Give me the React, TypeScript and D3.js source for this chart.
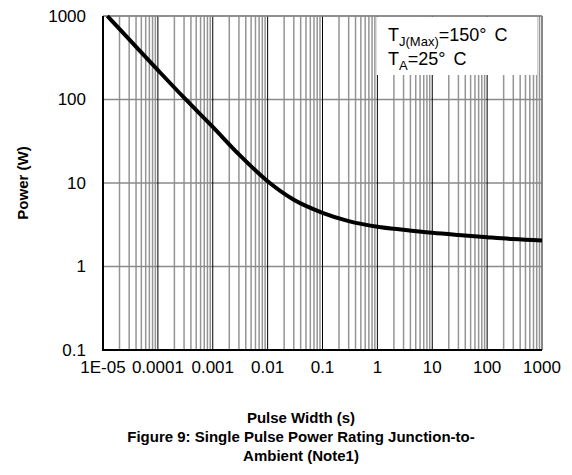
import React from "react";
import { scaleLog, line, curveMonotoneX, range } from "d3";

// Single pulse power rating
const PULSE_WIDTH = [1.2e-5, 3e-5, 1e-4, 3e-4, 1e-3, 3e-3, 1e-2, 3e-2, 1e-1, 3e-1, 1, 3, 10, 30, 100, 300, 1000];
const POWER = [1000, 525, 225, 105, 47, 22, 10.5, 6.3, 4.4, 3.5, 3.0, 2.75, 2.53, 2.38, 2.24, 2.13, 2.05];

const X_TICKS = [1e-5, 1e-4, 1e-3, 1e-2, 1e-1, 1, 10, 100, 1000];
const X_TICK_LABELS = ["1E-05", "0.0001", "0.001", "0.01", "0.1", "1", "10", "100", "1000"];
const Y_TICKS = [0.1, 1, 10, 100, 1000];
const Y_TICK_LABELS = ["0.1", "1", "10", "100", "1000"];

const W = 572;
const H = 475;
const PLOT = { left: 103, right: 542, top: 16, bottom: 350 };
const FONT = "'Liberation Sans', Arial, Helvetica, sans-serif";

export default function App() {
  const x = scaleLog().domain([1e-5, 1000]).range([PLOT.left, PLOT.right]);
  const y = scaleLog().domain([0.1, 1000]).range([PLOT.bottom, PLOT.top]);

  // minor vertical grid: 2..9 within each decade
  const minor: number[] = [];
  range(-5, 3).forEach((e) => {
    for (let k = 2; k <= 9; k++) minor.push(k * Math.pow(10, e));
  });

  const pts = PULSE_WIDTH.map((t, i) => [t, POWER[i]] as [number, number]);
  const path = line<[number, number]>()
    .x((d) => x(d[0]))
    .y((d) => y(d[1]))
    .curve(curveMonotoneX)(pts) ?? "";

  const cx = 301;

  return (
    <svg
      width={W}
      height={H}
      viewBox={`0 0 ${W} ${H}`}
      style={{ position: "absolute", left: 0, top: 0, background: "#fff" }}
      fontFamily={FONT}
    >
      <rect x={0} y={0} width={W} height={H} fill="#fff" />

      {/* minor gridlines */}
      {minor.map((v) => (
        <line key={`m${v}`} x1={x(v)} x2={x(v)} y1={PLOT.top} y2={PLOT.bottom} stroke="#959595" strokeWidth={1.5} />
      ))}
      {/* horizontal decade gridlines */}
      {Y_TICKS.map((v) => (
        <line key={`h${v}`} x1={PLOT.left} x2={PLOT.right} y1={y(v)} y2={y(v)} stroke="#8a8a8a" strokeWidth={1.5} />
      ))}
      {/* vertical decade gridlines */}
      {X_TICKS.map((v) => (
        <line key={`v${v}`} x1={x(v)} x2={x(v)} y1={PLOT.top} y2={PLOT.bottom} stroke="#000" strokeWidth={1} />
      ))}

      {/* frame */}
      <line x1={PLOT.left} x2={PLOT.right} y1={PLOT.top} y2={PLOT.top} stroke="#8a8a8a" strokeWidth={1.5} />
      <line x1={PLOT.right} x2={PLOT.right} y1={PLOT.top} y2={PLOT.bottom} stroke="#8a8a8a" strokeWidth={1.5} />

      {/* legend box */}
      <rect x={377} y={17} width={160} height={58} fill="#fff" />
      <text x={388} y={41} fontSize={18} fill="#000">
        T<tspan fontSize={13} dy={5}>J(Max)</tspan>
        <tspan dy={-5}>=150°</tspan>
        <tspan dx={8}>C</tspan>
      </text>
      <text x={388} y={65} fontSize={18} fill="#000">
        T<tspan fontSize={13} dy={5}>A</tspan>
        <tspan dy={-5}>=25°</tspan>
        <tspan dx={8}>C</tspan>
      </text>

      {/* curve */}
      <path d={path} fill="none" stroke="#000" strokeWidth={4} />

      <line x1={PLOT.left} x2={PLOT.left} y1={PLOT.top} y2={PLOT.bottom + 1} stroke="#000" strokeWidth={2} />
      <line x1={PLOT.left - 1} x2={PLOT.right} y1={PLOT.bottom} y2={PLOT.bottom} stroke="#000" strokeWidth={2} />

      {/* tick labels */}
      {Y_TICKS.map((v, i) => (
        <text key={`yl${v}`} x={86} y={y(v)} dy="0.35em" textAnchor="end" fontSize={17} fill="#000">
          {Y_TICK_LABELS[i]}
        </text>
      ))}
      {X_TICKS.map((v, i) => (
        <text key={`xl${v}`} x={x(v)} y={373} textAnchor="middle" fontSize={17} fill="#000">
          {X_TICK_LABELS[i]}
        </text>
      ))}

      {/* axis titles */}
      <text
        transform={`translate(28,183) rotate(-90)`}
        textAnchor="middle"
        fontSize={15}
        fontWeight="bold"
        fill="#000"
      >
        Power (W)
      </text>
      <g fontSize={15} fontWeight="bold" textAnchor="middle" fill="#000">
        <text x={cx} y={423}>Pulse Width (s)</text>
        <text x={cx} y={442}>Figure 9: Single Pulse Power Rating Junction-to-</text>
        <text x={cx} y={461}>Ambient (Note1)</text>
      </g>
    </svg>
  );
}
